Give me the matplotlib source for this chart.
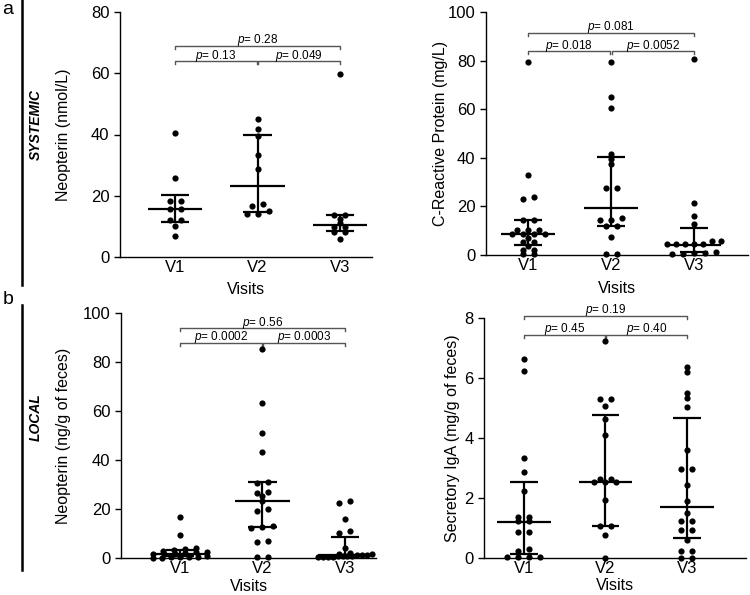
import numpy as np
import matplotlib
matplotlib.use("Agg")
import matplotlib.pyplot as plt
from matplotlib.lines import Line2D

plt.rcParams['font.family'] = ['Liberation Sans', 'DejaVu Sans']
plt.rcParams['mathtext.fontset'] = 'custom'
plt.rcParams['mathtext.it'] = 'Liberation Sans:italic'
plt.rcParams['mathtext.rm'] = 'Liberation Sans'

# -------------------------
# Data
# -------------------------
visits = ["V1", "V2", "V3"]

# a, left: serum neopterin (nmol/L)
neo_sys_v1 = [40.4, 25.9, 18.2, 18.2, 15.7, 15.7, 12.1, 12.1, 10.0, 7.0]
neo_sys_v2 = [45.0, 41.8, 39.5, 33.2, 28.6, 17.3, 16.7, 15.0, 14.1, 14.1]
neo_sys_v3 = [59.7, 13.6, 13.6, 12.5, 11.2, 9.8, 9.8, 8.2, 8.2, 5.9]
neo_sys_med = [15.7, 23.1, 10.6]
neo_sys_q1 = [11.3, 14.8, 8.4]
neo_sys_q3 = [20.1, 40.0, 13.6]
neo_sys_p = ["0.13", "0.049", "0.28"]

# a, right: C-reactive protein (mg/L)
crp_v1 = [79.5, 33.0, 23.8, 23.0, 14.4, 14.4, 10.3, 10.3, 10.3, 8.8, 8.8,
          8.8, 8.8, 7.1, 5.5, 5.5, 3.8, 2.1, 2.1, 0.4, 0.4]
crp_v2 = [79.5, 65.0, 60.3, 41.5, 39.5, 37.4, 27.5, 27.5, 15.1, 14.4, 14.4,
          12.1, 12.1, 7.3, 0.3, 0.3]
crp_v3 = [80.5, 21.3, 16.1, 12.9, 5.6, 5.6, 4.6, 4.6, 4.4, 4.4, 4.4,
          1.3, 1.0, 0.8, 0.5, 0.5]
crp_med = [8.8, 19.3, 4.1]
crp_q1 = [4.0, 12.0, 1.2]
crp_q3 = [14.4, 40.5, 11.0]
crp_p = ["0.018", "0.0052", "0.081"]

# b, left: fecal neopterin (ng/g of feces)
neo_loc_v1 = [16.8, 9.4, 4.0, 3.6, 3.4, 2.8, 2.6, 2.4, 2.2, 1.8, 1.7, 1.5,
              0.8, 0.6, 0.5, 0.4, 0.3, 0.2, 0.1]
neo_loc_v2 = [85.2, 63.1, 51.2, 43.3, 30.9, 30.5, 26.8, 26.6, 25.2, 23.4,
              19.8, 19.2, 13.2, 12.6, 12.4, 6.9, 6.6, 0.4, 0.3]
neo_loc_v3 = [23.2, 22.6, 16.0, 11.0, 10.3, 4.2, 2.2, 1.8, 1.5, 1.3, 1.2,
              1.1, 1.0, 0.9, 0.8, 0.7, 0.6, 0.5, 0.4, 0.3]
neo_loc_med = [1.8, 23.4, 1.2]
neo_loc_q1 = [0.7, 12.6, 0.6]
neo_loc_q3 = [3.4, 31.1, 8.5]
neo_loc_p = ["0.0002", "0.0003", "0.56"]

# b, right: secretory IgA (mg/g of feces)
iga_v1 = [6.62, 6.22, 3.33, 2.87, 2.22, 1.37, 1.37, 1.22, 1.22, 0.87, 0.87,
          0.31, 0.23, 0.03, 0.03, 0.03, 0.03]
iga_v2 = [7.23, 5.30, 5.30, 5.08, 4.62, 4.11, 2.65, 2.65, 2.53, 2.53, 2.53,
          1.92, 1.06, 1.06, 0.76, 0.0]
iga_v3 = [6.37, 6.20, 5.51, 5.35, 5.02, 3.61, 2.98, 2.98, 2.42, 1.89, 1.51,
          1.23, 1.23, 0.92, 0.92, 0.61, 0.23, 0.23, 0.01, 0.01]
iga_med = [1.20, 2.53, 1.70]
iga_q1 = [0.15, 1.06, 0.67]
iga_q3 = [2.53, 4.76, 4.67]
iga_p = ["0.45", "0.40", "0.19"]

# -------------------------
# Figure
# -------------------------
W, H = 750, 595
fig = plt.figure(figsize=(W / 100, H / 100), dpi=100)


def make_axes(xl, xr, yt, yb):
    return fig.add_axes([xl / W, 1 - yb / H, (xr - xl) / W, (yb - yt) / H])


def swarm(vals, ppu, ppc, thresh=3.0, step=11.0, max_span=54.0):
    # rows of near-equal values, spread symmetrically around the centre
    vals = np.asarray(vals, float)
    order = np.argsort(vals, kind="stable")
    offsets = np.zeros(len(vals))
    rows, cur, start = [], [], None
    for i in order:
        if start is None or (vals[i] - start) * ppu > thresh:
            if cur:
                rows.append(cur)
            cur, start = [i], vals[i]
        else:
            cur.append(i)
    rows.append(cur)
    for r in rows:
        n = len(r)
        if n == 1:
            continue
        sp = min(step, max_span / (n - 1))
        for k, i in enumerate(r):
            offsets[i] = (k - (n - 1) / 2) * sp / ppc
    return offsets


def panel(box, xlim, groups, med, q1, q3, ymax, ystep, ylabel, ylab_x,
          xlab_y, br_top, br_low, pvals):
    ax = make_axes(*box)
    ax.set_xlim(*xlim)
    ax.set_ylim(0, ymax)
    w_px = box[1] - box[0]
    h_px = box[3] - box[2]
    ppc = w_px / (xlim[1] - xlim[0])
    ppu = h_px / ymax

    for i, vals in enumerate(groups):
        off = swarm(vals, ppu, ppc)
        ax.scatter(i + off, vals, s=20, color="black", zorder=3,
                   linewidths=0, clip_on=False)
        ax.hlines(med[i], i - 0.33, i + 0.33, color="black", lw=1.6, zorder=4)
        ax.hlines([q1[i], q3[i]], i - 0.17, i + 0.17, color="black",
                  lw=1.6, zorder=4)
        ax.vlines(i, q1[i], q3[i], color="black", lw=1.6, zorder=4)

    drop = 3.0 / ppu
    lift = 2.5 / ppu
    pairs = [(0, 0.99, br_low), (1.01, 2, br_low), (0, 2, br_top)]
    for (x1, x2, yb), p in zip(pairs, pvals):
        ax.plot([x1, x1, x2, x2], [yb - drop, yb, yb, yb - drop],
                color="#555555", lw=1, clip_on=False)
        ax.text((x1 + x2) / 2, yb + lift, "$p$= " + p, ha="center",
                va="baseline", fontsize=8.5, clip_on=False)

    ax.set_xticks(range(len(visits)))
    ax.set_xticklabels(visits)
    ax.set_yticks(np.arange(0, ymax + 0.01, ystep))
    ax.tick_params(axis="x", length=0, pad=2.5, labelsize=12)
    ax.tick_params(axis="y", length=4, width=1, labelsize=12, direction="out")
    for s in ["top", "right"]:
        ax.spines[s].set_visible(False)
    for s in ["left", "bottom"]:
        ax.spines[s].set_linewidth(1)
    ax.set_ylabel(ylabel, fontsize=11.5)
    ax.yaxis.set_label_coords(ylab_x, 0.5)
    ax.set_xlabel("Visits", fontsize=11.5)
    ax.xaxis.set_label_coords(0.5, xlab_y)
    return ax


panel((120, 372, 12, 257), (-0.667, 2.388),
      [neo_sys_v1, neo_sys_v2, neo_sys_v3], neo_sys_med, neo_sys_q1,
      neo_sys_q3, 80, 20, "Neopterin (nmol/L)", -0.195, -0.1,
      68.9, 64.0, neo_sys_p)

panel((486, 748, 12, 255), (-0.506, 2.65),
      [crp_v1, crp_v2, crp_v3], crp_med, crp_q1, crp_q3, 100, 20,
      "C-Reactive Protein (mg/L)", -0.145, -0.105,
      91.4, 83.8, crp_p)

panel((121, 376, 313, 558), (-0.715, 2.376),
      [neo_loc_v1, neo_loc_v2, neo_loc_v3], neo_loc_med, neo_loc_q1,
      neo_loc_q3, 100, 20, "Neopterin (ng/g of feces)", -0.196, -0.084,
      93.7, 87.9, neo_loc_p)

panel((484, 746, 318, 558), (-0.491, 2.727),
      [iga_v1, iga_v2, iga_v3], iga_med, iga_q1, iga_q3, 8, 2,
      "Secretory IgA (mg/g of feces)", -0.092, -0.084,
      8.07, 7.45, iga_p)

# -------------------------
# Row labels and separators
# -------------------------
fig.add_artist(Line2D([22 / W, 22 / W], [1.0, 1 - 285 / H], color="black", lw=1.8))
fig.add_artist(Line2D([22 / W, 22 / W], [1 - 305 / H, 1 - 570 / H], color="black", lw=1.8))
fig.text(8 / W, 1 - 10 / H, "a", fontsize=14, ha="center", va="center")
fig.text(8 / W, 1 - 300 / H, "b", fontsize=14, ha="center", va="center")
fig.text(36 / W, 1 - 125 / H, "SYSTEMIC", rotation=90, fontsize=10,
         fontweight="bold", fontstyle="italic", ha="center", va="center")
fig.text(36 / W, 1 - 417 / H, "LOCAL", rotation=90, fontsize=10,
         fontweight="bold", fontstyle="italic", ha="center", va="center")

fig.savefig("out.png", dpi=100)
